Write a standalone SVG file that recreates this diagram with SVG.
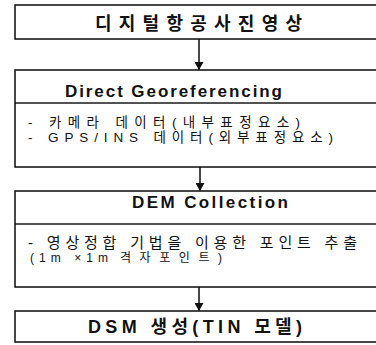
<svg xmlns="http://www.w3.org/2000/svg" width="376" height="345" viewBox="0 0 376 345">
<style>
.box{fill:#fff;stroke:#1a1a1a;stroke-width:1.6}
.div{stroke:#1a1a1a;stroke-width:1.6}
.conn{stroke:#1a1a1a;stroke-width:1.6;fill:none}
.t{font-family:"Liberation Sans","Noto Sans CJK KR",sans-serif;fill:#111}
.h{font-weight:bold}
</style>
<defs>
<marker id="ah" markerWidth="9" markerHeight="9" refX="8" refY="4.5" orient="auto" markerUnits="userSpaceOnUse">
<path d="M0,0 L8,4.5 L0,9 Z" fill="#111"/>
</marker>
</defs>
<rect width="376" height="345" fill="#fff"/>
<g id="connectors">
<line class="conn" x1="199" y1="39" x2="199" y2="70" marker-end="url(#ah)"/>
<line class="conn" x1="200" y1="167" x2="200" y2="191" marker-end="url(#ah)"/>
<line class="conn" x1="199" y1="287" x2="199" y2="311" marker-end="url(#ah)"/>
</g>
<g id="node1">
<rect class="box" x="15" y="5" width="370" height="34"/>
<text class="t h" x="95" y="30" font-size="18" textLength="207" lengthAdjust="spacing">디지털항공사진영상</text>
</g>
<g id="node2">
<rect class="box" x="15" y="70" width="370" height="97"/>
<line class="div" x1="15" y1="103" x2="385" y2="103"/>
<text class="t h" x="65" y="97" font-size="17" textLength="217" lengthAdjust="spacing">Direct Georeferencing</text>
<text class="t" x="28" y="127" font-size="13.5" textLength="272" lengthAdjust="spacing">- 카메라 데이터(내부표정요소)</text>
<text class="t" x="28" y="142" font-size="13.5" textLength="305" lengthAdjust="spacing">- GPS/INS 데이터(외부표정요소)</text>
</g>
<g id="node3">
<rect class="box" x="15" y="191" width="370" height="96"/>
<line class="div" x1="15" y1="224" x2="385" y2="224"/>
<text class="t h" x="132" y="208" font-size="17" textLength="156" lengthAdjust="spacing">DEM Collection</text>
<text class="t" x="28" y="248" font-size="15" textLength="329" lengthAdjust="spacing">- 영상정합 기법을 이용한 포인트 추출</text>
<text class="t" y="262" font-size="12"><tspan x="30" textLength="78" lengthAdjust="spacing">(1m ×1m</tspan><tspan x="120" textLength="102" lengthAdjust="spacing">격자포인트)</tspan></text>
</g>
<g id="node4">
<rect class="box" x="15" y="311" width="370" height="31"/>
<text class="t h" x="88" y="333" font-size="18" textLength="214" lengthAdjust="spacing">DSM 생성(TIN 모델)</text>
</g>
</svg>
